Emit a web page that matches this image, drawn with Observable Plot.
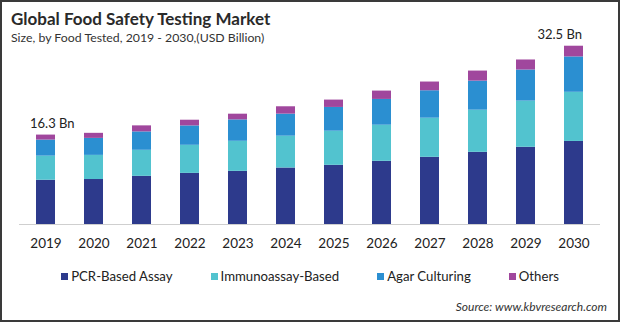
<!DOCTYPE html>
<html>
<head>
<meta charset="utf-8">
<script src="https://cdn.jsdelivr.net/npm/d3@7"></script>
<script src="https://cdn.jsdelivr.net/npm/@observablehq/plot@0.6"></script>
<style>
  html, body { margin: 0; padding: 0; background: #fff; }
  #wrap { position: relative; width: 620px; height: 322px; overflow: hidden; font-family: Lato, "Open Sans", sans-serif; color: #222; }
  #border { position: absolute; left: 0; top: 0; width: 620px; height: 322px; box-sizing: border-box; border: 2px solid #3a3a3a; pointer-events: none; z-index: 5; }
  #title { position: absolute; left: 11px; top: 8px; font-size: 17px; font-weight: bold; color: #2a2a2a; z-index: 3; white-space: nowrap; }
  #subtitle { position: absolute; left: 11px; top: 30px; font-size: 12.3px; color: #333; z-index: 3; white-space: nowrap; }
  #chart { position: absolute; left: 0; top: 0; }
  #legend { position: absolute; left: 0; width: 620px; top: 268px; display: flex; justify-content: center; gap: 38px; font-size: 13.2px; color: #222; }
  #legend .item { display: flex; align-items: center; }
  #legend .sw { width: 7px; height: 7px; margin-right: 3px; }
  #source { position: absolute; right: 13px; top: 299px; font-size: 12px; font-style: italic; color: #333; }
</style>
</head>
<body>
<div id="wrap">
  <div id="title">Global Food Safety Testing Market</div>
  <div id="subtitle">Size, by Food Tested, 2019 - 2030,(USD Billion)</div>
  <div id="chart"></div>
  <div id="legend"></div>
  <div id="source">Source: www.kbvresearch.com</div>
  <div id="border"></div>
</div>
<script>
const years = ["2019","2020","2021","2022","2023","2024","2025","2026","2027","2028","2029","2030"];
const seriesNames = ["PCR-Based Assay", "Immunoassay-Based", "Agar Culturing", "Others"];
const seriesColors = ["#2d3a8c", "#52c3cf", "#2b8fd1", "#a0479d"];
const pcr      = [8.07, 8.20, 8.78, 9.32, 9.69, 10.30, 10.79, 11.52, 12.25, 13.16, 14.08, 15.14];
const immuno   = [4.39, 4.40, 4.75, 5.12, 5.48, 5.80, 6.22, 6.58, 7.13, 7.68, 8.41, 8.96];
const agar     = [2.93, 3.10, 3.35, 3.53, 3.90, 4.02, 4.33, 4.70, 5.00, 5.30, 5.67, 6.45];
const others   = [0.91, 0.92, 1.10, 1.04, 1.04, 1.34, 1.34, 1.52, 1.59, 1.83, 1.83, 1.95];
const labelYears = ["2019", "2030"];
const labelTexts = ["16.3 Bn", "32.5 Bn"];

const seriesValues = [pcr, immuno, agar, others];
const data = [];
seriesNames.forEach((s, i) => years.forEach((y, j) => data.push({year: y, series: s, value: seriesValues[i][j]})));
const totals = years.map((y, j) => seriesValues.reduce((a, arr) => a + arr[j], 0));
const labels = labelYears.map((y, k) => ({year: y, text: labelTexts[k], total: totals[years.indexOf(y)]}));

const chart = Plot.plot({
  width: 620,
  height: 262,
  marginLeft: 19,
  marginRight: 20,
  marginTop: 32,
  marginBottom: 38,
  style: {fontFamily: "Lato, 'Open Sans', sans-serif", background: "transparent"},
  x: {domain: years, paddingInner: 0.6, paddingOuter: 0.3, label: null, tickSize: 0, tickPadding: 14},
  y: {domain: [0, 35], axis: null},
  color: {domain: seriesNames, range: seriesColors},
  marks: [
    Plot.barY(data, {x: "year", y: "value", fill: "series", order: seriesNames}),
    Plot.ruleY([0], {stroke: "#cfcfcf", strokeWidth: 1}),
    Plot.axisX({tickSize: 0, tickPadding: 14, fontSize: 13.5, color: "#222", label: null}),
    Plot.text(labels.slice(0,1), {x: "year", y: "total", text: "text", textAnchor: "start", dx: -16, dy: -11, fontSize: 13, fill: "#222"}),
    Plot.text(labels.slice(1), {x: "year", y: "total", text: "text", textAnchor: "end", dx: 8, dy: -11, fontSize: 13, fill: "#222"})
  ]
});
document.getElementById("chart").appendChild(chart);

const legend = document.getElementById("legend");
seriesNames.forEach((s, i) => {
  const item = document.createElement("div");
  item.className = "item";
  const sw = document.createElement("span");
  sw.className = "sw";
  sw.style.background = seriesColors[i];
  const t = document.createElement("span");
  t.textContent = s;
  item.appendChild(sw);
  item.appendChild(t);
  legend.appendChild(item);
});
</script>
</body>
</html>
